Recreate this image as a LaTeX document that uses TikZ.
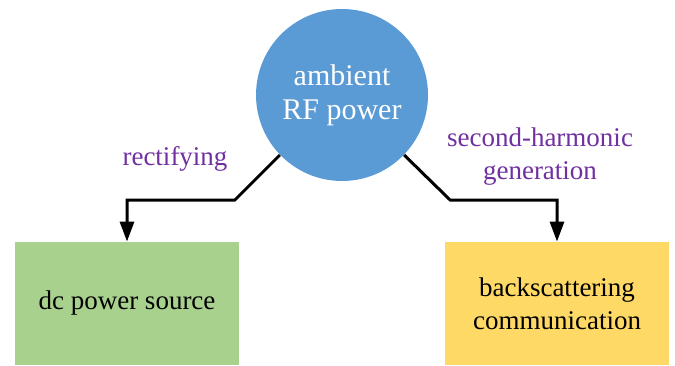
\documentclass[tikz,border=0pt]{standalone}
\usepackage{fontspec}
\setmainfont{Liberation Serif}
\usetikzlibrary{arrows.meta}
\definecolor{rfblue}{HTML}{5B9BD5}
\definecolor{dcgreen}{HTML}{A9D18E}
\definecolor{bsyellow}{HTML}{FFD966}
\definecolor{lblpurple}{HTML}{7030A0}

\begin{document}
\begin{tikzpicture}[x=0.5pt, y=0.5pt,
        src/.style={circle, fill=rfblue, text=white, minimum size=86pt, inner sep=0pt, align=center, font=\fontsize{15}{17}\selectfont},
        target/.style={rectangle, minimum width=112pt, minimum height=61.5pt, inner sep=0pt, align=center, font=\fontsize{13.5}{16.5}\selectfont},
        lbl/.style={text=lblpurple, align=center, font=\fontsize{13.5}{16.5}\selectfont},
        flow/.style={line width=1.5pt, -{Triangle[length=10pt,width=7pt]}}]
        % Frame (keeps the margins)
        \useasboundingbox (0,0) rectangle (675,365);

        % Source - blue circle
        \node[src] (rf) at (342,270) {ambient\\RF power};

        % Targets - green and yellow boxes
        \node[target, fill=dcgreen] (dc) at (127,61.5) {dc power source};
        \node[target, fill=bsyellow] (bs) at (557,61.5) {backscattering\\communication};

        % Connectors: diagonal, then across, then down
        \draw[flow] (rf.224) -- ++(-45,-45) -| (dc.north);
        \draw[flow] (rf.316) -- ++(46,-45) -| (bs.north);

        % Connector labels
        \node[lbl] (rect) at (175,206) {rectifying};
        \node[lbl] (shg) at (540,208) {second-harmonic\\generation};
    \end{tikzpicture}
\end{document}
